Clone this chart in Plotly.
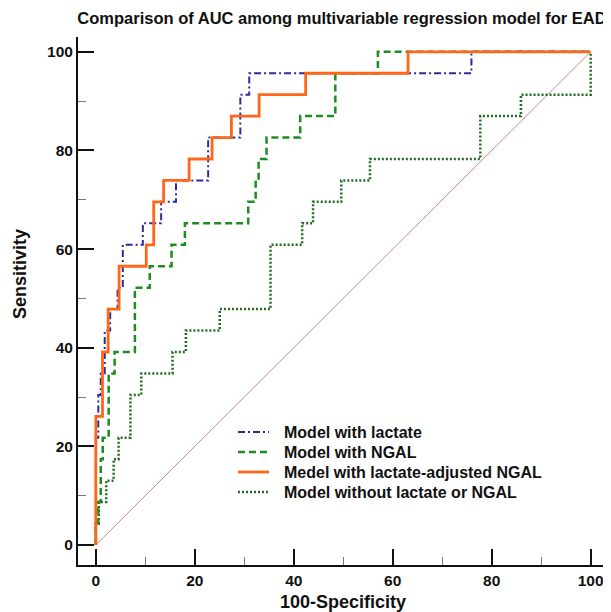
import plotly.graph_objects as go

# ---- data ----
lactate_x = [0, 0, 0.5, 1.0, 1.8, 2.9, 4.4, 5.45, 9.5, 13.2, 16.2, 22.7, 29.2, 31.0, 75.9, 100]
lactate_y = [0, 21.74, 30.43, 34.78, 43.48, 47.83, 52.17, 60.87, 65.22, 69.57, 73.91, 82.61, 91.30, 95.65, 100, 100]

ngal_x = [0, 0, 0.5, 1.0, 1.4, 2.6, 3.8, 7.9, 10.9, 15.3, 18.0, 30.8, 32.3, 32.9, 34.5, 41.3, 48.4, 57.0, 100]
ngal_y = [0, 4.35, 8.70, 17.39, 21.74, 34.78, 39.13, 52.17, 56.52, 60.87, 65.22, 69.57, 73.91, 78.26, 82.61, 86.96, 95.65, 100, 100]

adj_x = [0, 0, 1.35, 2.5, 4.7, 10.2, 11.7, 13.7, 18.85, 23.5, 27.4, 33.0, 42.4, 63.1, 100]
adj_y = [0, 26.09, 39.13, 47.83, 56.52, 60.87, 69.57, 73.91, 78.26, 82.61, 86.96, 91.30, 95.65, 100, 100]

none_x = [0, 0, 0.6, 2.1, 3.6, 4.6, 7.0, 9.2, 15.5, 18.2, 25.05, 35.3, 41.7, 43.9, 49.6, 55.4, 77.7, 85.9, 100]
none_y = [0, 4.35, 8.70, 13.04, 17.39, 21.74, 30.43, 34.78, 39.13, 43.48, 47.83, 60.87, 65.22, 69.57, 73.91, 78.26, 86.96, 91.30, 100]

diag_x = [0, 100]
diag_y = [0, 100]

names = ["Model with lactate", "Model with NGAL",
         "Medel with lactate-adjusted NGAL", "Model without lactate or NGAL"]
colors = ["#2b2b9b", "#1e8c1e", "#ff6619", "#1f6e1f"]
dashes = ["7px,3px,2px,3px", "7px,4px", "solid", "2px,2px"]
widths = [2, 2.5, 2.8, 2.5]
tick_vals = [0, 20, 40, 60, 80, 100]
tick_text = ["0", "20", "40", "60", "80", "100"]

FONT = "Liberation Sans, Arial, sans-serif"

# page body has an 8px margin: compensate so the plot area lands at
# x 78..608, y 37..565 of the window
OFF = 8
W, H = 611 - OFF, 612 - OFF
PL, PR, PT, PB = 78 - OFF, 3, 37 - OFF, 47
PW, PH = 530, 528


def px_x(p):
    return (p - 78) / PW


def px_y(p):
    return (565 - p) / PH


fig = go.Figure()
fig.add_trace(go.Scatter(x=diag_x, y=diag_y, mode="lines", showlegend=False,
                         line=dict(color="#c98a8a", width=1), hoverinfo="skip"))
series = [(lactate_x, lactate_y), (ngal_x, ngal_y), (adj_x, adj_y), (none_x, none_y)]
for i in [3, 1, 0, 2]:
    sx, sy = series[i]
    fig.add_trace(go.Scatter(x=sx, y=sy, mode="lines", name=names[i], showlegend=False,
                             line=dict(color=colors[i], width=widths[i], dash=dashes[i], shape="hv")))

axis_common = dict(
    showgrid=False, zeroline=False, showline=True, linecolor="#111111", linewidth=2,
    ticks="inside", ticklen=16, tickwidth=2, tickcolor="#111111",
    tickvals=tick_vals, ticktext=tick_text,
    tickfont=dict(family=FONT, size=15.5, color="#111111", weight="bold"),
    minor=dict(ticks="inside", ticklen=8, tickwidth=1, tickcolor="#777777", dtick=10, tick0=0),
)

# hand-made legend (keeps the reference's tight 20px row spacing)
legend_rows = [432, 452, 472, 492]
shapes = []
annotations = []
for i, row in enumerate(legend_rows):
    shapes.append(dict(type="line", xref="paper", yref="paper",
                       x0=px_x(238), x1=px_x(269), y0=px_y(row), y1=px_y(row),
                       line=dict(color=colors[i], width=widths[i], dash=dashes[i])))
    annotations.append(dict(text=names[i], xref="paper", yref="paper",
                            x=px_x(282), y=px_y(row), xanchor="left", yanchor="middle",
                            showarrow=False,
                            font=dict(family=FONT, size=16, color="#111111", weight="bold")))

annotations += [
    dict(text="Sensitivity", xref="paper", yref="paper", x=px_x(20), y=px_y(274),
         textangle=-90, showarrow=False, xanchor="center", yanchor="middle",
         font=dict(family=FONT, size=18, color="#111111", weight="bold")),
    dict(text="100-Specificity", xref="paper", yref="paper", x=px_x(343), y=px_y(602),
         showarrow=False, xanchor="center", yanchor="middle",
         font=dict(family=FONT, size=18, color="#111111", weight="bold")),
]

fig.update_layout(
    width=W, height=H,
    margin=dict(l=PL, r=PR, t=PT, b=PB),
    paper_bgcolor="white", plot_bgcolor="white",
    title=dict(text="Comparison of AUC among multivariable regression model for EAD",
               x=px_x(342), xref="paper", xanchor="center",
               y=1 - (18 - OFF) / H, yref="container", yanchor="middle",
               font=dict(family=FONT, size=16.5, color="#111111", weight="bold")),
    xaxis=dict(range=[-3.6, 103.5], **axis_common),
    yaxis=dict(range=[-4.06, 103.0], **axis_common),
    showlegend=False,
    shapes=shapes,
    annotations=annotations,
)

fig.write_html("out.html")
